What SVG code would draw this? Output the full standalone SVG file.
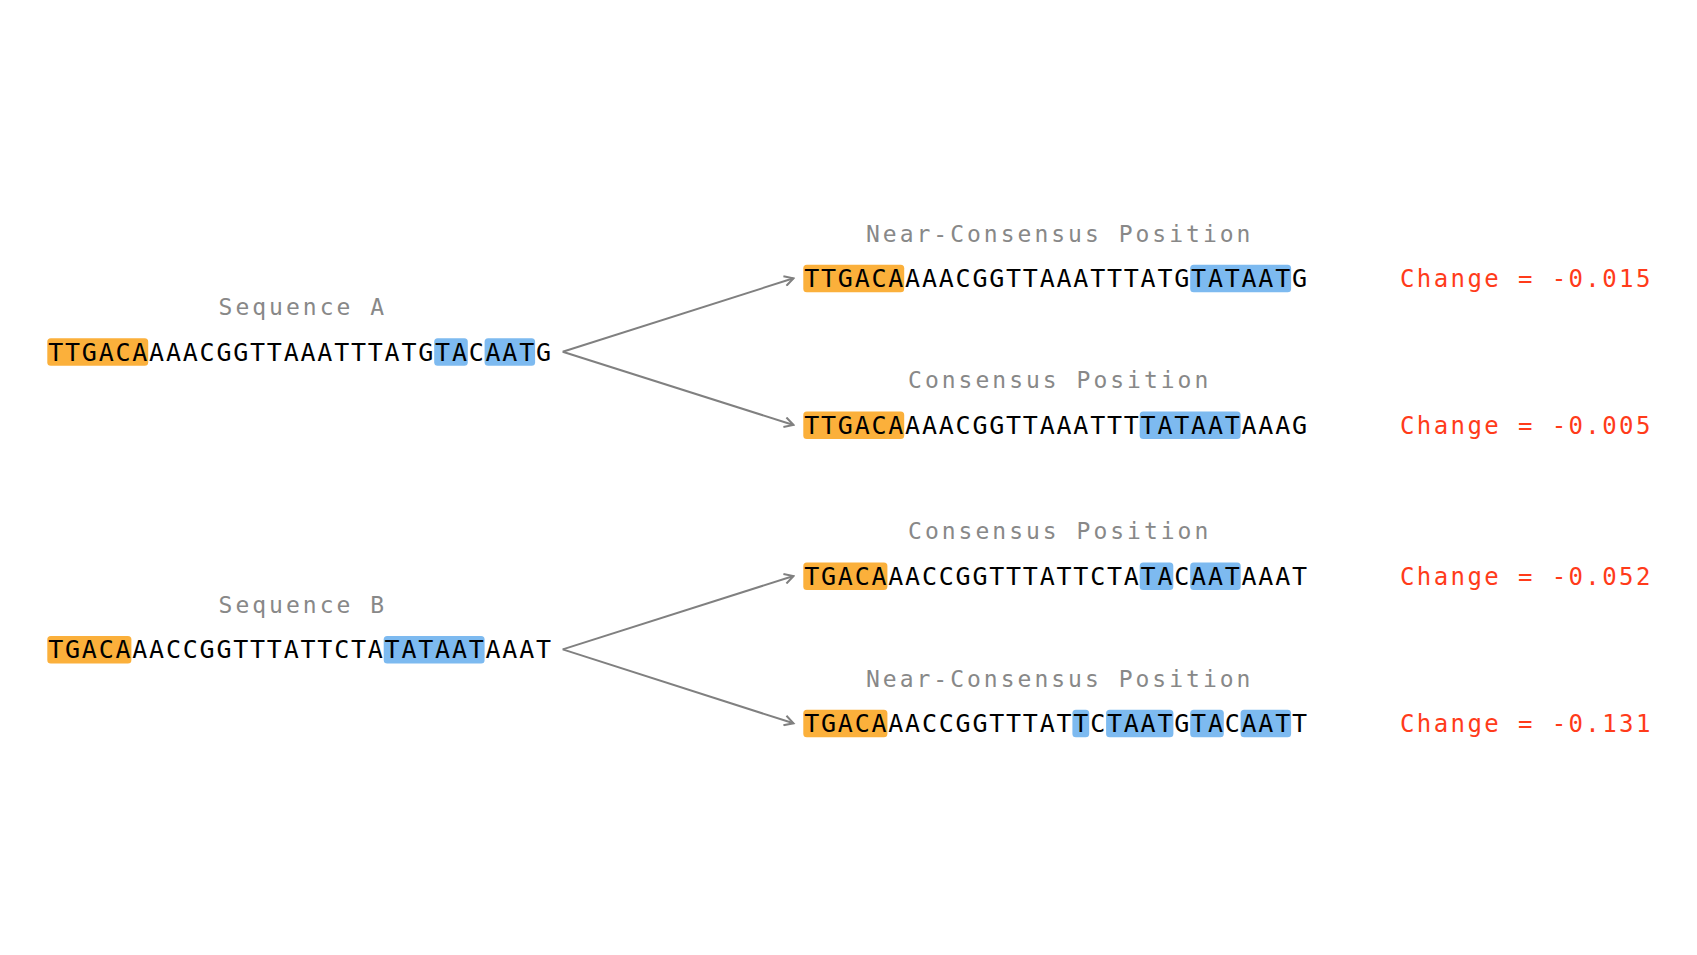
<svg xmlns="http://www.w3.org/2000/svg" width="1697" height="955" viewBox="0 0 1697 955">
<defs>
<style>
.seq{font-family:"DejaVu Sans Mono","Liberation Mono",monospace;font-size:25px;letter-spacing:1.77px;fill:#000}
.lbl{font-family:"DejaVu Sans Mono","Liberation Mono",monospace;font-size:23px;letter-spacing:3px;fill:#888;text-anchor:middle}
.chg{font-family:"DejaVu Sans Mono","Liberation Mono",monospace;font-size:24px;letter-spacing:2.4px;fill:#ff3b1a}
.o{fill:#fbb03b}
.b{fill:#7dbaf0}
.conn{stroke:#808080;stroke-width:2;fill:none}
</style>
<marker id="arr" markerUnits="userSpaceOnUse" viewBox="0 0 12 12" refX="10" refY="6" markerWidth="12" markerHeight="12" orient="auto">
<path d="M1,1 L10,6 L1,11" fill="none" stroke="#808080" stroke-width="2"/>
</marker>
</defs>
<rect width="1697" height="955" fill="#fff"/>
<g id="connectors">
<path class="conn" d="M562.7,351.7 L793.5,278.3" marker-end="url(#arr)"/>
<path class="conn" d="M562.7,351.7 L793.5,425" marker-end="url(#arr)"/>
<path class="conn" d="M562.7,649.4 L793.5,576" marker-end="url(#arr)"/>
<path class="conn" d="M562.7,649.4 L793.5,723.3" marker-end="url(#arr)"/>
</g>
<g id="seqA">
<text class="lbl" x="302.8" y="315">Sequence A</text>
<rect class="o" x="47.3" y="338.2" width="100.9" height="27.5" rx="3.5"/>
<rect class="b" x="434.2" y="338.2" width="33.6" height="27.5" rx="3.5"/>
<rect class="b" x="484.6" y="338.2" width="50.5" height="27.5" rx="3.5"/>
<text class="seq" x="48.2" y="360.7">TTGACAAAACGGTTAAATTTATGTACAATG</text>
</g>
<g id="nearA">
<text class="lbl" x="1059.7" y="241.7">Near-Consensus Position</text>
<rect class="o" x="803.3" y="264.8" width="100.9" height="27.5" rx="3.5"/>
<rect class="b" x="1190.2" y="264.8" width="100.9" height="27.5" rx="3.5"/>
<text class="seq" x="804.2" y="287.3">TTGACAAAACGGTTAAATTTATGTATAATG</text>
<text class="chg" x="1400" y="287.3">Change = -0.015</text>
</g>
<g id="consA">
<text class="lbl" x="1059.7" y="388">Consensus Position</text>
<rect class="o" x="803.3" y="411.5" width="100.9" height="27.5" rx="3.5"/>
<rect class="b" x="1139.7" y="411.5" width="100.9" height="27.5" rx="3.5"/>
<text class="seq" x="804.2" y="434">TTGACAAAACGGTTAAATTTTATAATAAAG</text>
<text class="chg" x="1400" y="434">Change = -0.005</text>
</g>
<g id="seqB">
<text class="lbl" x="302.8" y="612.5">Sequence B</text>
<rect class="o" x="47.3" y="635.9" width="84.1" height="27.5" rx="3.5"/>
<rect class="b" x="383.7" y="635.9" width="100.9" height="27.5" rx="3.5"/>
<text class="seq" x="48.2" y="658.4">TGACAAACCGGTTTATTCTATATAATAAAT</text>
</g>
<g id="consB">
<text class="lbl" x="1059.7" y="538.5">Consensus Position</text>
<rect class="o" x="803.3" y="562.5" width="84.1" height="27.5" rx="3.5"/>
<rect class="b" x="1139.7" y="562.5" width="33.6" height="27.5" rx="3.5"/>
<rect class="b" x="1190.2" y="562.5" width="50.5" height="27.5" rx="3.5"/>
<text class="seq" x="804.2" y="585">TGACAAACCGGTTTATTCTATACAATAAAT</text>
<text class="chg" x="1400" y="585">Change = -0.052</text>
</g>
<g id="nearB">
<text class="lbl" x="1059.7" y="686.5">Near-Consensus Position</text>
<rect class="o" x="803.3" y="709.8" width="84.1" height="27.5" rx="3.5"/>
<rect class="b" x="1072.4" y="709.8" width="16.8" height="27.5" rx="3.5"/>
<rect class="b" x="1106.1" y="709.8" width="67.3" height="27.5" rx="3.5"/>
<rect class="b" x="1190.2" y="709.8" width="33.6" height="27.5" rx="3.5"/>
<rect class="b" x="1240.6" y="709.8" width="50.5" height="27.5" rx="3.5"/>
<text class="seq" x="804.2" y="732.3">TGACAAACCGGTTTATTCTAATGTACAATT</text>
<text class="chg" x="1400" y="732.3">Change = -0.131</text>
</g>
</svg>
